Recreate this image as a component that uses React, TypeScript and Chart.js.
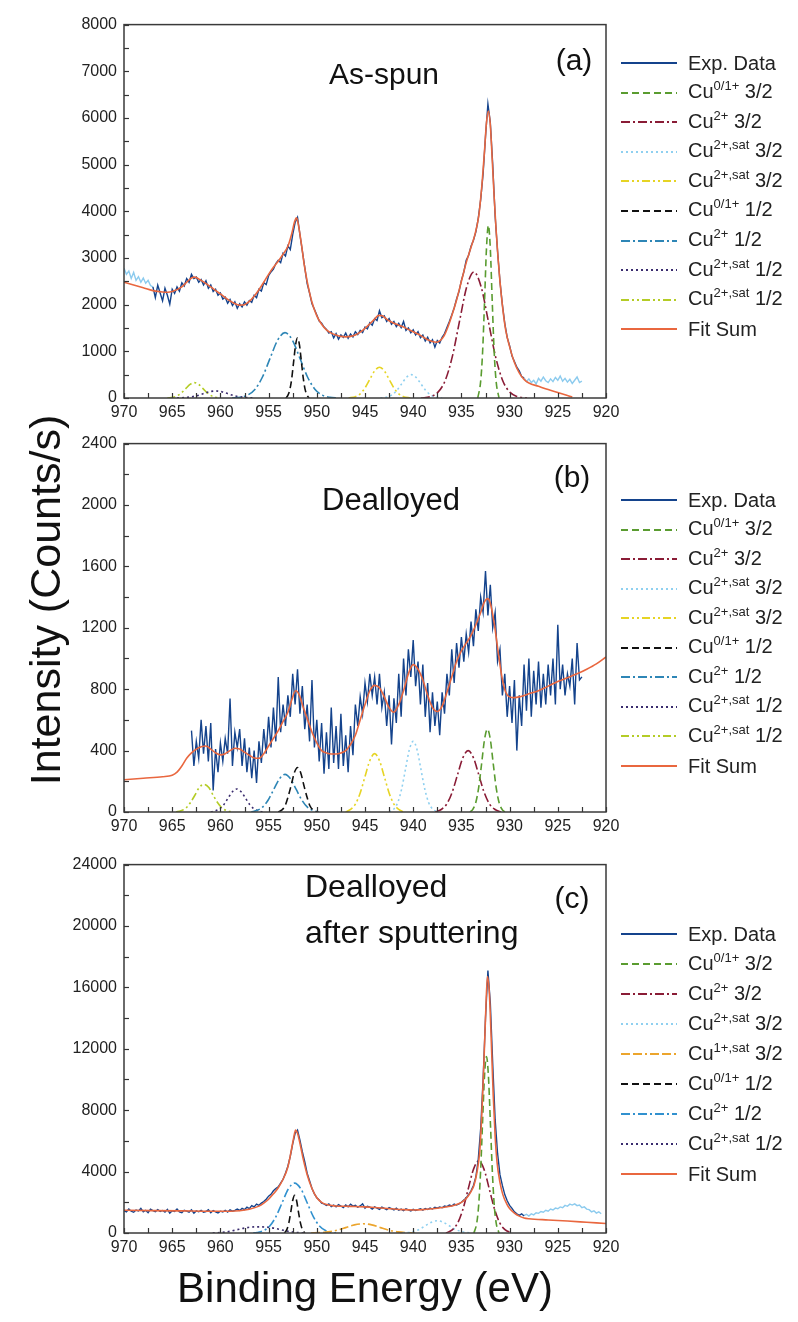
import React, { useEffect, useRef } from "react";
import { Chart, registerables } from "chart.js";
Chart.register(...registerables);

const FONT = "'Liberation Sans', Arial, Helvetica, sans-serif";

// ---------- axes ----------
const X_MIN = 920;
const X_MAX = 970;
const X_TICK_STEP = 2.5;
const X_LABEL_STEP = 5;
const EXP_STEP = 0.25;

// ---------- panel (a) As-spun ----------
const A_Y_MAX = 8000;
const A_Y_TICK = 500;
const A_Y_LABEL = 1000;
const A_EXP_START = 967;
const A_EXP = [
  2380, 2150, 2420, 2250, 2080, 2350, 2200, 2010,
  2330, 2240, 2380, 2290, 2470, 2400, 2560, 2480,
  2650, 2560, 2590, 2480, 2540, 2420, 2510, 2350,
  2420, 2280, 2330, 2200, 2250, 2120, 2160, 2030,
  2110, 1980, 2060, 1920, 2020, 1950, 2060, 1990,
  2090, 2050, 2200, 2150, 2330, 2290, 2470, 2430,
  2620, 2700, 2760, 2880, 2950, 2900, 3100, 3040,
  3260, 3180, 3500, 3760, 3870, 3500, 3150, 2800,
  2450, 2250, 2020, 1900, 1780, 1650, 1600, 1520,
  1470, 1390, 1420, 1290, 1380, 1260, 1350, 1300,
  1390, 1280, 1370, 1310, 1420, 1360, 1450, 1400,
  1520, 1480, 1610, 1560, 1700, 1660, 1870, 1720,
  1760, 1640, 1700, 1580, 1640, 1530, 1600, 1510,
  1640, 1450, 1500, 1400, 1460, 1350, 1420, 1290,
  1350, 1220, 1300, 1180, 1250, 1090, 1230, 1180,
  1300, 1380, 1510, 1640, 1780, 1930, 2120, 2280,
  2520, 2700, 2950, 3060, 3250, 3380, 3560, 3850,
  4250, 4800, 5600, 6300, 5900, 5000, 3900, 3150,
  2500, 2000, 1600, 1300, 1120, 900, 780, 660,
  580, 460, 430,
];
const A_PRE_START = 970;
const A_PRE = [2780, 2650, 2720, 2560, 2690, 2520, 2600, 2480, 2570, 2460, 2520, 2410, 2380];
const A_POST_START = 928.5;
const A_POST = [
  430, 350, 410, 330, 380, 300, 420, 360, 450, 370, 330, 410, 350,
  440, 380, 470, 360, 420, 340, 400, 310, 380, 450, 330, 360,
];
const A_FIT: [number, number][] = [
  [970, 2480], [969, 2420], [968, 2360], [967, 2300], [966, 2270], [965.5, 2265], [965, 2280],
  [964, 2380], [963.5, 2480], [963, 2570], [962.7, 2590], [962, 2520], [961, 2380], [960, 2230],
  [959, 2080], [958, 1990], [957.5, 2000], [957, 2070], [956.5, 2180], [956, 2320], [955.5, 2480],
  [955, 2650], [954.5, 2800], [954, 2930], [953.5, 3080], [953, 3250], [952.6, 3520], [952.3, 3780],
  [952.1, 3860], [951.9, 3700], [951.6, 3300], [951.3, 2850], [951, 2500], [950.5, 2050], [950, 1760],
  [949.5, 1580], [949, 1460], [948.5, 1390], [948, 1350], [947.5, 1320], [947, 1310], [946.5, 1320],
  [946, 1350], [945.5, 1410], [945, 1490], [944.5, 1590], [944, 1690], [943.6, 1770], [943.2, 1760],
  [942.7, 1680], [942, 1600], [941.5, 1560], [941, 1520], [940.5, 1470], [940, 1420], [939.5, 1370],
  [939, 1310], [938.5, 1250], [938, 1210], [937.6, 1195], [937.2, 1230], [936.8, 1330], [936.4, 1520],
  [936, 1760], [935.5, 2100], [935, 2500], [934.5, 2900], [934, 3230], [933.6, 3500], [933.2, 3900],
  [932.9, 4500], [932.6, 5300], [932.4, 5900], [932.2, 6150], [932, 5850], [931.8, 5100], [931.6, 4300],
  [931.4, 3600], [931.2, 3000], [931, 2500], [930.7, 1900], [930.4, 1450], [930, 1100], [929.5, 760],
  [929, 540], [928.5, 400], [928, 320], [927, 250], [926, 180], [925, 120], [924, 55], [923.5, 20],
];
const A_CU01_32: [number, number][] = [
  [933.3, 0], [933.0, 360], [932.8, 990], [932.6, 2060], [932.4, 3200], [932.2, 3700],
  [932.0, 3200], [931.8, 2060], [931.6, 990], [931.4, 360], [931.1, 0],
];
const A_CU2_32: [number, number][] = [
  [939.2, 0], [938.2, 30], [937.45, 120], [936.7, 365], [935.95, 880], [935.2, 1640], [934.45, 2380],
  [933.7, 2700], [932.95, 2380], [932.2, 1640], [931.45, 880], [930.7, 365], [929.95, 120], [929.2, 30], [928.2, 0],
];
const A_SAT_32A: [number, number][] = [
  [943.4, 0], [942.7, 22], [942.2, 68], [941.7, 162], [941.2, 303], [940.7, 441], [940.2, 500],
  [939.7, 441], [939.2, 303], [938.7, 162], [938.2, 68], [937.7, 22], [937.0, 0],
];
const A_SAT_32B: [number, number][] = [
  [946.7, 0], [946.0, 29], [945.5, 89], [945.0, 215], [944.5, 400], [944.0, 582], [943.5, 660],
  [943.0, 582], [942.5, 400], [942.0, 215], [941.5, 89], [941.0, 29], [940.3, 0],
];
const A_CU01_12: [number, number][] = [
  [953.2, 0], [953.0, 57], [952.8, 174], [952.6, 419], [952.4, 783], [952.2, 1138], [952.0, 1290],
  [951.8, 1138], [951.6, 783], [951.4, 419], [951.2, 174], [951.0, 57], [950.8, 0],
];
const A_CU2_12: [number, number][] = [
  [958.8, 0], [957.95, 15], [957.175, 62], [956.4, 189], [955.625, 455], [954.85, 850], [954.075, 1235],
  [953.3, 1400], [952.525, 1235], [951.75, 850], [950.975, 455], [950.2, 189], [949.425, 62], [948.65, 15], [947.8, 0],
];
const A_SAT_12A: [number, number][] = [
  [964.5, 0], [963.4, 16], [962.5, 45], [961.8, 91], [961.15, 133], [960.5, 150],
  [959.85, 133], [959.2, 91], [958.5, 45], [957.6, 16], [956.5, 0],
];
const A_SAT_12B: [number, number][] = [
  [965.5, 0], [964.9, 17], [964.5, 45], [964.05, 107], [963.6, 200], [963.15, 291], [962.7, 330],
  [962.25, 291], [961.8, 200], [961.35, 107], [960.9, 45], [960.5, 17], [960.0, 0],
];

// ---------- panel (b) Dealloyed ----------
const B_Y_MAX = 2400;
const B_Y_TICK = 200;
const B_Y_LABEL = 400;
const B_EXP_START = 963;
const B_EXP = [
  530, 300, 460, 350, 600, 380, 560, 330,
  580, 140, 410, 260, 450, 330, 480, 380,
  740, 300, 520, 420, 540, 300, 480, 260,
  420, 220, 400, 190, 460, 320, 540, 380,
  620, 420, 680, 460, 880, 520, 700, 560,
  760, 620, 900, 700, 930, 640, 820, 540,
  700, 460, 860, 420, 600, 330, 580, 250,
  520, 280, 680, 320, 560, 280, 640, 300,
  500, 260, 560, 370, 700, 560, 750, 640,
  840, 720, 900, 760, 880, 700, 900, 680,
  780, 560, 760, 440, 740, 580, 900, 620,
  1000, 760, 1060, 880, 1120, 820, 980, 700,
  960, 620, 840, 520, 780, 560, 720, 500,
  780, 640, 900, 760, 1060, 840, 1100, 940,
  1140, 980, 1160, 1040, 1240, 1080, 1320, 1180,
  1400, 1300, 1570, 1280, 1480, 1200, 1300, 980,
  1060, 760, 900, 620, 820, 580, 860, 400,
  760, 560, 960, 660, 1000, 620, 920, 700,
  980, 680, 900, 700, 960, 760, 1000, 700,
  1220, 800, 960, 760, 900, 820, 1000, 700,
  1100, 860, 880,
];
const B_FIT: [number, number][] = [
  [970, 210], [968, 220], [966, 230], [965, 240], [964.5, 260], [964, 300], [963.5, 350], [963, 385],
  [962.5, 410], [962, 425], [961.5, 430], [961, 410], [960.5, 385], [960, 372], [959.5, 380], [959, 400],
  [958.5, 415], [958, 410], [957.5, 390], [957, 370], [956.5, 352], [956, 350], [955.5, 380], [955, 430],
  [954.5, 480], [954, 530], [953.5, 590], [953, 650], [952.6, 730], [952.2, 790], [951.8, 760], [951.4, 680],
  [951, 610], [950.5, 520], [950, 450], [949.5, 400], [949, 385], [948.5, 378], [948, 378], [947.5, 385],
  [947, 400], [946.5, 440], [946, 500], [945.5, 600], [945, 700], [944.5, 790], [944, 825], [943.5, 810],
  [943, 750], [942.5, 680], [942, 650], [941.5, 700], [941, 790], [940.5, 900], [940, 960], [939.5, 930],
  [939, 860], [938.5, 760], [938, 680], [937.5, 655], [937, 690], [936.5, 780], [936, 880], [935.5, 980],
  [935, 1050], [934.5, 1100], [934, 1150], [933.5, 1220], [933, 1300], [932.6, 1370], [932.3, 1390],
  [932, 1360], [931.6, 1230], [931.2, 1050], [930.8, 880], [930.4, 780], [930, 750], [929.5, 745],
  [929, 750], [928, 770], [927, 790], [926, 820], [925, 850], [924, 875], [923, 900], [922, 930],
  [921, 965], [920, 1010],
];
const B_CU01_32: [number, number][] = [
  [934.1, 0], [933.8, 19], [933.5, 64], [933.2, 162], [932.9, 316], [932.6, 473], [932.3, 540],
  [932.0, 473], [931.7, 316], [931.4, 162], [931.1, 64], [930.8, 19], [930.5, 0],
];
const B_CU2_32: [number, number][] = [
  [937.7, 0], [937.05, 18], [936.5, 54], [935.95, 130], [935.4, 243], [934.85, 353], [934.3, 400],
  [933.75, 353], [933.2, 243], [932.65, 130], [932.1, 54], [931.55, 18], [930.9, 0],
];
const B_SAT_32A: [number, number][] = [
  [942.5, 0], [942.0, 20], [941.6, 62], [941.2, 150], [940.8, 279], [940.4, 406], [940.0, 460],
  [939.6, 406], [939.2, 279], [938.8, 150], [938.4, 62], [938.0, 20], [937.5, 0],
];
const B_SAT_32B: [number, number][] = [
  [947.0, 0], [946.5, 17], [946.0, 51], [945.5, 124], [945.0, 231], [944.5, 335], [944.0, 380],
  [943.5, 335], [943.0, 231], [942.5, 124], [942.0, 51], [941.5, 17], [941.0, 0],
];
const B_CU01_12: [number, number][] = [
  [954.0, 0], [953.65, 12], [953.3, 39], [953.0, 94], [952.65, 176], [952.33, 256], [952.0, 290],
  [951.67, 256], [951.35, 176], [951.0, 94], [950.7, 39], [950.35, 12], [950.0, 0],
];
const B_CU2_12: [number, number][] = [
  [956.8, 0], [956.175, 11], [955.6, 33], [955.025, 80], [954.45, 149], [953.875, 216], [953.3, 245],
  [952.725, 216], [952.15, 149], [951.575, 80], [951.0, 33], [950.425, 11], [949.8, 0],
];
const B_SAT_12A: [number, number][] = [
  [961.0, 0], [960.55, 7], [960.1, 20], [959.65, 48], [959.2, 91], [958.75, 132], [958.3, 150],
  [957.85, 132], [957.4, 91], [956.95, 48], [956.5, 20], [956.05, 7], [955.6, 0],
];
const B_SAT_12B: [number, number][] = [
  [964.6, 0], [964.1, 8], [963.6, 24], [963.1, 62], [962.65, 109], [962.2, 159], [961.7, 180],
  [961.2, 159], [960.75, 109], [960.3, 62], [959.8, 24], [959.3, 8], [958.8, 0],
];

// ---------- panel (c) Dealloyed after sputtering ----------
const C_Y_MAX = 24000;
const C_Y_TICK = 2000;
const C_Y_LABEL = 4000;
const C_EXP_START = 970;
const C_EXP = [
  1450, 1380, 1560, 1420, 1350, 1500, 1440, 1600,
  1380, 1480, 1320, 1550, 1460, 1390, 1520, 1410,
  1470, 1360, 1540, 1300, 1450, 1400, 1560, 1380,
  1330, 1480, 1420, 1360, 1510, 1290, 1440, 1380,
  1470, 1350, 1400, 1520, 1320, 1460, 1380, 1300,
  1420, 1370, 1480, 1360, 1510, 1420, 1480, 1560,
  1470, 1600, 1520, 1680, 1590, 1780, 1700, 1880,
  1800, 1950, 2050, 2200, 2400, 2520, 2750, 2900,
  3000, 3250, 3500, 3900, 4350, 5000, 5800, 6500,
  6700, 6050, 5300, 4650, 3900, 3400, 2900, 2550,
  2300, 2150, 1950, 1900, 1800, 1900, 1720, 1820,
  1700, 1850, 1760, 1650, 1820, 1700, 1880, 1750,
  1800, 1680, 1760, 1900, 1620, 1740, 1680, 1560,
  1700, 1620, 1540, 1680, 1600, 1520, 1650, 1580,
  1500, 1620, 1480, 1560, 1450, 1580, 1500, 1440,
  1540, 1460, 1520, 1580, 1490, 1600, 1530, 1620,
  1560, 1680, 1620, 1700, 1640, 1760, 1720, 1820,
  1760, 1880, 1820, 1900, 2000, 2150, 2280, 2500,
  2750, 3100, 3650, 4800, 6800, 10000, 14000, 17100,
  15000, 11000, 7400, 5200, 3800, 3100, 2500, 2100,
  1800, 1600, 1380, 1250, 1150, 1250, 1100,
];
const C_POST_START = 928.5;
const C_POST = [
  1150, 1220, 1100, 1250, 1180, 1320, 1280, 1400, 1350, 1480, 1420, 1560, 1500, 1620, 1580, 1700,
  1650, 1800, 1740, 1880, 1820, 1900, 1780, 1820, 1650, 1700, 1560, 1520, 1380, 1450, 1300, 1380, 1250,
];
const C_FIT: [number, number][] = [
  [970, 1480], [967, 1460], [964, 1440], [961, 1420], [959, 1420], [958, 1450], [957, 1550], [956, 1750],
  [955.5, 1950], [955, 2200], [954.5, 2550], [954, 2950], [953.5, 3500], [953, 4300], [952.7, 5200],
  [952.4, 6200], [952.2, 6700], [952, 6500], [951.7, 5700], [951.4, 4800], [951, 3800], [950.5, 2900],
  [950, 2300], [949.5, 2000], [949, 1850], [948, 1760], [947, 1740], [946, 1730], [945, 1700], [944, 1660],
  [943, 1610], [942, 1560], [941, 1520], [940, 1500], [939, 1520], [938, 1580], [937, 1660], [936, 1760],
  [935.5, 1850], [935, 2000], [934.5, 2250], [934, 2700], [933.7, 3100], [933.4, 3900], [933.1, 5300],
  [932.9, 7500], [932.7, 10500], [932.5, 14000], [932.3, 16700], [932.1, 15600], [931.9, 12500],
  [931.7, 9000], [931.5, 6300], [931.3, 4600], [931, 3300], [930.7, 2500], [930.3, 1900], [930, 1600],
  [929.5, 1300], [929, 1100], [928.5, 980], [928, 930], [926, 850], [924, 780], [922, 700], [920, 620],
];
const C_CU01_32: [number, number][] = [
  [933.7, 0], [933.4, 680], [933.2, 1880], [933.0, 4140], [932.8, 7300], [932.6, 10270], [932.4, 11500],
  [932.2, 10270], [932.0, 7300], [931.8, 4140], [931.6, 1880], [931.4, 680], [931.1, 0],
];
const C_CU2_32: [number, number][] = [
  [936.6, 0], [935.95, 205], [935.4, 635], [934.85, 1530], [934.3, 2850], [933.75, 4145], [933.2, 4700],
  [932.65, 4145], [932.1, 2850], [931.55, 1530], [931.0, 635], [930.45, 205], [929.8, 0],
];
const C_SAT_32: [number, number][] = [
  [941.1, 0], [940.5, 35], [939.9, 108], [939.3, 260], [938.7, 486], [938.1, 706], [937.5, 800],
  [936.9, 706], [936.3, 486], [935.7, 260], [935.1, 108], [934.5, 35], [933.9, 0],
];
const C_CU1SAT_32: [number, number][] = [
  [950.6, 0], [949.7, 22], [948.8, 73], [947.9, 182], [947.0, 350], [946.1, 530], [945.2, 600],
  [944.3, 530], [943.4, 350], [942.5, 182], [941.6, 73], [940.7, 22], [939.8, 0],
];
const C_CU01_12: [number, number][] = [
  [953.35, 0], [953.1, 238], [952.9, 657], [952.7, 1365], [952.5, 2120], [952.3, 2450],
  [952.1, 2120], [951.9, 1365], [951.7, 657], [951.5, 238], [951.25, 0],
];
const C_CU2_12: [number, number][] = [
  [956.6, 0], [956.2, 36], [955.55, 143], [954.9, 440], [954.25, 1055], [953.6, 1970], [952.95, 2870],
  [952.3, 3250], [951.65, 2870], [951.0, 1970], [950.35, 1055], [949.7, 440], [949.05, 143], [948.4, 36], [948.0, 0],
];
const C_SAT_12: [number, number][] = [
  [960.8, 0], [959.8, 40], [959.0, 110], [958.3, 210], [957.5, 320], [956.8, 385], [956.0, 400],
  [955.2, 385], [954.5, 320], [953.7, 210], [953.0, 110], [952.2, 40], [951.3, 0],
];

// ---------- styles ----------
type Style = { color: string; dash: number[]; width: number };
const S_EXP: Style = { color: "#14438c", dash: [], width: 1.4 };
const S_EXP_OUT: Style = { color: "#8ccbee", dash: [], width: 1.4 };
const S_FIT: Style = { color: "#e9673f", dash: [], width: 1.6 };
const S_CU01_32: Style = { color: "#5a9c30", dash: [7, 4], width: 1.6 };
const S_CU2_32: Style = { color: "#8a1c36", dash: [9, 3, 2, 3], width: 1.6 };
const S_SAT_32A: Style = { color: "#8fd0f0", dash: [2, 3], width: 1.6 };
const S_SAT_32B: Style = { color: "#e6d424", dash: [8, 3, 2, 3, 2, 3], width: 1.6 };
const S_CU1SAT_32: Style = { color: "#eca52c", dash: [9, 3, 9, 3, 2, 3], width: 1.6 };
const S_CU01_12: Style = { color: "#111111", dash: [7, 4], width: 1.6 };
const S_CU2_12: Style = { color: "#2e86b6", dash: [9, 3, 2, 3], width: 1.6 };
const S_CU2_12C: Style = { color: "#3191cf", dash: [9, 3, 2, 3], width: 1.6 };
const S_SAT_12A: Style = { color: "#3a2c6e", dash: [2, 3], width: 1.6 };
const S_SAT_12B: Style = { color: "#b4cc26", dash: [8, 3, 2, 3, 2, 3], width: 1.6 };

// ---------- geometry ----------
const PAGE_W = 798;
const PAGE_H = 1322;
const PLOT_LEFT = 124;
const PLOT_RIGHT = 606;
const PAD_TOP = 14;
const X_AXIS_H = 40;

type Pt = { x: number; y: number };
const fromGrid = (start: number, vals: number[]): Pt[] => vals.map((y, i) => ({ x: start - i * EXP_STEP, y }));
const fromPairs = (arr: [number, number][]): Pt[] => arr.map(([x, y]) => ({ x, y }));

type Series = { label: string; data: Pt[]; style: Style; smooth: boolean };
type LegendItem = { base: string; sup?: string; tail: string; style: Style };
type Note = { text: string; x: number; y: number; size: number; align: "center" | "left" };
type PanelSpec = {
  top: number;
  bottom: number;
  yMax: number;
  yTick: number;
  yLabel: number;
  series: Series[];
  legend: LegendItem[];
  legendTop: number;
  legendRow: number;
  notes: Note[];
};

const framePlugin = {
  id: "frame",
  afterDatasetsDraw(chart: any) {
    const { ctx, chartArea: a, scales } = chart;
    ctx.save();
    ctx.strokeStyle = "#333";
    ctx.lineWidth = 1.2;
    scales.x.ticks.forEach((t: any) => {
      const px = Math.round(scales.x.getPixelForValue(t.value)) + 0.5;
      ctx.beginPath();
      ctx.moveTo(px, a.bottom);
      ctx.lineTo(px, a.bottom - 5);
      ctx.stroke();
    });
    scales.y.ticks.forEach((t: any) => {
      const py = Math.round(scales.y.getPixelForValue(t.value)) + 0.5;
      ctx.beginPath();
      ctx.moveTo(a.left, py);
      ctx.lineTo(a.left + 5, py);
      ctx.stroke();
    });
    ctx.lineWidth = 1.5;
    ctx.strokeStyle = "#3a3a3a";
    ctx.strokeRect(a.left, a.top, a.right - a.left, a.bottom - a.top);
    ctx.restore();
  },
};

function PanelChart({ spec }: { spec: PanelSpec }) {
  const ref = useRef<HTMLCanvasElement>(null);
  const canvasTop = spec.top - PAD_TOP;
  const canvasH = spec.bottom - spec.top + PAD_TOP + X_AXIS_H;
  useEffect(() => {
    if (!ref.current) return;
    const chart = new Chart(ref.current, {
      type: "line",
      data: {
        datasets: spec.series.map((s) => ({
          label: s.label,
          data: s.data,
          borderColor: s.style.color,
          borderWidth: s.style.width,
          borderDash: s.style.dash,
          pointRadius: 0,
          fill: false,
          tension: 0,
          cubicInterpolationMode: s.smooth ? "monotone" : "default",
        })),
      },
      options: {
        animation: false,
        responsive: false,
        maintainAspectRatio: false,
        layout: { padding: { top: PAD_TOP, left: 0, right: PAGE_W - PLOT_RIGHT, bottom: 0 } },
        plugins: { legend: { display: false }, tooltip: { enabled: false } },
        scales: {
          x: {
            type: "linear",
            min: X_MIN,
            max: X_MAX,
            reverse: true,
            afterFit: (s: any) => {
              s.height = X_AXIS_H;
            },
            grid: { display: false, drawTicks: false },
            border: { display: false },
            ticks: {
              stepSize: X_TICK_STEP,
              autoSkip: false,
              maxRotation: 0,
              padding: 5,
              color: "#222",
              font: { size: 16, family: FONT },
              callback: (v: any) => (Number(v) % X_LABEL_STEP === 0 ? String(v) : ""),
            },
          },
          y: {
            type: "linear",
            min: 0,
            max: spec.yMax,
            afterFit: (s: any) => {
              s.width = PLOT_LEFT;
            },
            grid: { display: false, drawTicks: false },
            border: { display: false },
            ticks: {
              stepSize: spec.yTick,
              autoSkip: false,
              padding: 7,
              color: "#222",
              font: { size: 16, family: FONT },
              callback: (v: any) => (Number(v) % spec.yLabel === 0 ? String(v) : ""),
            },
          },
        },
      } as any,
      plugins: [framePlugin],
    });
    return () => chart.destroy();
  }, []);
  return (
    <>
      <canvas
        ref={ref}
        width={PAGE_W}
        height={canvasH}
        style={{ position: "absolute", left: 0, top: canvasTop, width: PAGE_W, height: canvasH }}
      />
      {spec.notes.map((n, i) => (
        <div
          key={i}
          style={{
            position: "absolute",
            left: n.align === "center" ? n.x - 150 : n.x,
            width: n.align === "center" ? 300 : 400,
            top: n.y - n.size * 0.6,
            height: n.size * 1.2,
            lineHeight: `${n.size * 1.2}px`,
            fontSize: n.size,
            fontFamily: FONT,
            color: "#111",
            textAlign: n.align,
            whiteSpace: "nowrap",
          }}
        >
          {n.text}
        </div>
      ))}
      <div style={{ position: "absolute", left: 621, top: spec.legendTop - spec.legendRow / 2 }}>
        {spec.legend.map((it, i) => (
          <div key={i} style={{ height: spec.legendRow, display: "flex", alignItems: "center" }}>
            <svg width={56} height={10} style={{ display: "block" }}>
              <line
                x1={0}
                y1={5}
                x2={56}
                y2={5}
                stroke={it.style.color}
                strokeWidth={2}
                strokeDasharray={it.style.dash.length ? it.style.dash.join(" ") : undefined}
              />
            </svg>
            <span
              style={{
                marginLeft: 11,
                fontSize: 20,
                fontFamily: FONT,
                color: "#222",
                whiteSpace: "nowrap",
                lineHeight: "20px",
              }}
            >
              {it.base}
              {it.sup ? (
                <span style={{ fontSize: 13, position: "relative", top: -8 }}>{it.sup}</span>
              ) : null}
              {it.tail}
            </span>
          </div>
        ))}
      </div>
    </>
  );
}

const L_EXP: LegendItem = { base: "Exp. Data", tail: "", style: S_EXP };
const L_FIT: LegendItem = { base: "Fit Sum", tail: "", style: S_FIT };
const LEGEND_AB: LegendItem[] = [
  L_EXP,
  { base: "Cu", sup: "0/1+", tail: " 3/2", style: S_CU01_32 },
  { base: "Cu", sup: "2+", tail: " 3/2", style: S_CU2_32 },
  { base: "Cu", sup: "2+,sat", tail: " 3/2", style: S_SAT_32A },
  { base: "Cu", sup: "2+,sat", tail: " 3/2", style: S_SAT_32B },
  { base: "Cu", sup: "0/1+", tail: " 1/2", style: S_CU01_12 },
  { base: "Cu", sup: "2+", tail: " 1/2", style: S_CU2_12 },
  { base: "Cu", sup: "2+,sat", tail: " 1/2", style: S_SAT_12A },
  { base: "Cu", sup: "2+,sat", tail: " 1/2", style: S_SAT_12B },
  L_FIT,
];

const PANEL_A: PanelSpec = {
  top: 22,
  bottom: 398,
  yMax: A_Y_MAX,
  yTick: A_Y_TICK,
  yLabel: A_Y_LABEL,
  series: [
    { label: "Fit Sum", data: fromPairs(A_FIT), style: S_FIT, smooth: true },
    { label: "Exp. Data", data: fromGrid(A_EXP_START, A_EXP), style: S_EXP, smooth: false },
    { label: "Exp. Data (outside fit)", data: fromGrid(A_PRE_START, A_PRE), style: S_EXP_OUT, smooth: false },
    { label: "Exp. Data (outside fit)", data: fromGrid(A_POST_START, A_POST), style: S_EXP_OUT, smooth: false },
    { label: "Cu0/1+ 3/2", data: fromPairs(A_CU01_32), style: S_CU01_32, smooth: true },
    { label: "Cu2+ 3/2", data: fromPairs(A_CU2_32), style: S_CU2_32, smooth: true },
    { label: "Cu2+,sat 3/2", data: fromPairs(A_SAT_32A), style: S_SAT_32A, smooth: true },
    { label: "Cu2+,sat 3/2", data: fromPairs(A_SAT_32B), style: S_SAT_32B, smooth: true },
    { label: "Cu0/1+ 1/2", data: fromPairs(A_CU01_12), style: S_CU01_12, smooth: true },
    { label: "Cu2+ 1/2", data: fromPairs(A_CU2_12), style: S_CU2_12, smooth: true },
    { label: "Cu2+,sat 1/2", data: fromPairs(A_SAT_12A), style: S_SAT_12A, smooth: true },
    { label: "Cu2+,sat 1/2", data: fromPairs(A_SAT_12B), style: S_SAT_12B, smooth: true },
  ],
  legend: LEGEND_AB,
  legendTop: 63,
  legendRow: 29.6,
  notes: [
    { text: "(a)", x: 574, y: 60, size: 30, align: "center" },
    { text: "As-spun", x: 384, y: 74, size: 30, align: "center" },
  ],
};

const PANEL_B: PanelSpec = {
  top: 441,
  bottom: 812,
  yMax: B_Y_MAX,
  yTick: B_Y_TICK,
  yLabel: B_Y_LABEL,
  series: [
    { label: "Fit Sum", data: fromPairs(B_FIT), style: S_FIT, smooth: true },
    { label: "Exp. Data", data: fromGrid(B_EXP_START, B_EXP), style: S_EXP, smooth: false },
    { label: "Cu0/1+ 3/2", data: fromPairs(B_CU01_32), style: S_CU01_32, smooth: true },
    { label: "Cu2+ 3/2", data: fromPairs(B_CU2_32), style: S_CU2_32, smooth: true },
    { label: "Cu2+,sat 3/2", data: fromPairs(B_SAT_32A), style: S_SAT_32A, smooth: true },
    { label: "Cu2+,sat 3/2", data: fromPairs(B_SAT_32B), style: S_SAT_32B, smooth: true },
    { label: "Cu0/1+ 1/2", data: fromPairs(B_CU01_12), style: S_CU01_12, smooth: true },
    { label: "Cu2+ 1/2", data: fromPairs(B_CU2_12), style: S_CU2_12, smooth: true },
    { label: "Cu2+,sat 1/2", data: fromPairs(B_SAT_12A), style: S_SAT_12A, smooth: true },
    { label: "Cu2+,sat 1/2", data: fromPairs(B_SAT_12B), style: S_SAT_12B, smooth: true },
  ],
  legend: LEGEND_AB,
  legendTop: 500,
  legendRow: 29.5,
  notes: [
    { text: "(b)", x: 572, y: 477, size: 30, align: "center" },
    { text: "Dealloyed", x: 391, y: 500, size: 31, align: "center" },
  ],
};

const PANEL_C: PanelSpec = {
  top: 862,
  bottom: 1233,
  yMax: C_Y_MAX,
  yTick: C_Y_TICK,
  yLabel: C_Y_LABEL,
  series: [
    { label: "Fit Sum", data: fromPairs(C_FIT), style: S_FIT, smooth: true },
    { label: "Exp. Data", data: fromGrid(C_EXP_START, C_EXP), style: S_EXP, smooth: false },
    { label: "Exp. Data (outside fit)", data: fromGrid(C_POST_START, C_POST), style: S_EXP_OUT, smooth: false },
    { label: "Cu0/1+ 3/2", data: fromPairs(C_CU01_32), style: S_CU01_32, smooth: true },
    { label: "Cu2+ 3/2", data: fromPairs(C_CU2_32), style: S_CU2_32, smooth: true },
    { label: "Cu2+,sat 3/2", data: fromPairs(C_SAT_32), style: S_SAT_32A, smooth: true },
    { label: "Cu1+,sat 3/2", data: fromPairs(C_CU1SAT_32), style: S_CU1SAT_32, smooth: true },
    { label: "Cu0/1+ 1/2", data: fromPairs(C_CU01_12), style: S_CU01_12, smooth: true },
    { label: "Cu2+ 1/2", data: fromPairs(C_CU2_12), style: S_CU2_12C, smooth: true },
    { label: "Cu2+,sat 1/2", data: fromPairs(C_SAT_12), style: S_SAT_12A, smooth: true },
  ],
  legend: [
    L_EXP,
    { base: "Cu", sup: "0/1+", tail: " 3/2", style: S_CU01_32 },
    { base: "Cu", sup: "2+", tail: " 3/2", style: S_CU2_32 },
    { base: "Cu", sup: "2+,sat", tail: " 3/2", style: S_SAT_32A },
    { base: "Cu", sup: "1+,sat", tail: " 3/2", style: S_CU1SAT_32 },
    { base: "Cu", sup: "0/1+", tail: " 1/2", style: S_CU01_12 },
    { base: "Cu", sup: "2+", tail: " 1/2", style: S_CU2_12C },
    { base: "Cu", sup: "2+,sat", tail: " 1/2", style: S_SAT_12A },
    L_FIT,
  ],
  legendTop: 934,
  legendRow: 30,
  notes: [
    { text: "(c)", x: 572, y: 898, size: 30, align: "center" },
    { text: "Dealloyed", x: 305, y: 886, size: 32, align: "left" },
    { text: "after sputtering", x: 305, y: 932, size: 32, align: "left" },
  ],
};

export default function App() {
  return (
    <div
      style={{
        position: "absolute",
        left: 0,
        top: 0,
        width: PAGE_W,
        height: PAGE_H,
        background: "#fff",
        overflow: "hidden",
      }}
    >
      <PanelChart spec={PANEL_A} />
      <PanelChart spec={PANEL_B} />
      <PanelChart spec={PANEL_C} />
      <div
        style={{
          position: "absolute",
          left: 45 - 300,
          top: 600 - 25,
          width: 600,
          height: 50,
          lineHeight: "50px",
          textAlign: "center",
          fontSize: 43,
          fontFamily: FONT,
          color: "#111",
          transform: "rotate(-90deg)",
          whiteSpace: "nowrap",
        }}
      >
        Intensity (Counts/s)
      </div>
      <div
        style={{
          position: "absolute",
          left: 365 - 300,
          top: 1288 - 25,
          width: 600,
          height: 50,
          lineHeight: "50px",
          textAlign: "center",
          fontSize: 42,
          fontFamily: FONT,
          color: "#111",
          whiteSpace: "nowrap",
        }}
      >
        Binding Energy (eV)
      </div>
    </div>
  );
}
